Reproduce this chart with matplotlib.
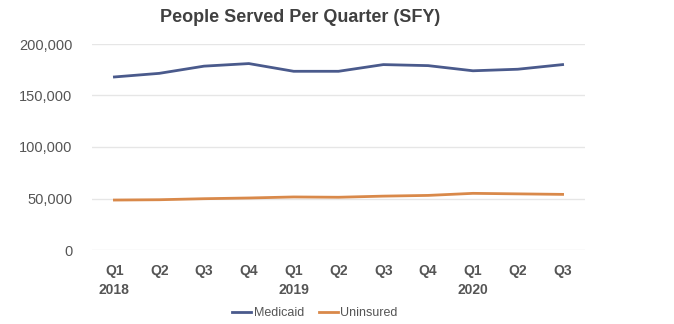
import matplotlib
matplotlib.use("Agg")
import matplotlib.pyplot as plt

quarters = ["Q1", "Q2", "Q3", "Q4", "Q1", "Q2", "Q3", "Q4", "Q1", "Q2", "Q3"]
years = ["2018", "", "", "", "2019", "", "", "", "2020", "", ""]
medicaid = [168000, 171500, 178500, 181000, 173500, 173500, 180000, 179000, 174000, 175500, 180000]
uninsured = [48500, 48800, 49800, 50500, 51500, 51200, 52300, 53000, 55000, 54500, 54000]

plt.rcParams['font.family'] = ['Liberation Sans', 'DejaVu Sans']

fig = plt.figure(figsize=(6.74, 3.24), dpi=100)
ax = fig.add_axes([92 / 674, 1 - 250 / 324, (585 - 92) / 674, (250 - 44) / 324])

x = list(range(len(quarters)))
ax.plot(x, medicaid, color="#4a5a8c", lw=2, label="Medicaid")
ax.plot(x, uninsured, color="#d9894a", lw=2, label="Uninsured")

ax.set_xlim(-0.5, len(quarters) - 0.5)
ax.set_ylim(0, 200000)
yt = [0, 50000, 100000, 150000, 200000]
ax.set_yticks(yt)
ax.set_yticklabels([f"{v:,}" for v in yt], color="#555555", fontsize=10.5)
ax.set_xticks(x)
labels = [q + ("\n" + y if y else "\n ") for q, y in zip(quarters, years)]
ax.set_xticklabels(labels, color="#555555", fontsize=10, fontweight="bold", linespacing=1.5)
ax.tick_params(length=0)
ax.tick_params(axis="x", pad=10)
ax.tick_params(axis="y", pad=14)
ax.grid(axis="y", color="#e6e6e6", lw=1)
ax.set_axisbelow(True)
for s in ax.spines.values():
    s.set_visible(False)

fig.text(300 / 674, 1 - 18 / 324, "People Served Per Quarter (SFY)", ha="center", va="center",
         fontsize=13, fontweight="bold", color="#404040")

leg = fig.legend(loc="center", bbox_to_anchor=(315 / 674, 1 - 313 / 324), ncol=2, frameon=False,
                 fontsize=9, handlelength=1.5, handletextpad=0.2, columnspacing=1.2)
for t in leg.get_texts():
    t.set_color("#555555")

fig.savefig("out.png", dpi=100, facecolor="white")
